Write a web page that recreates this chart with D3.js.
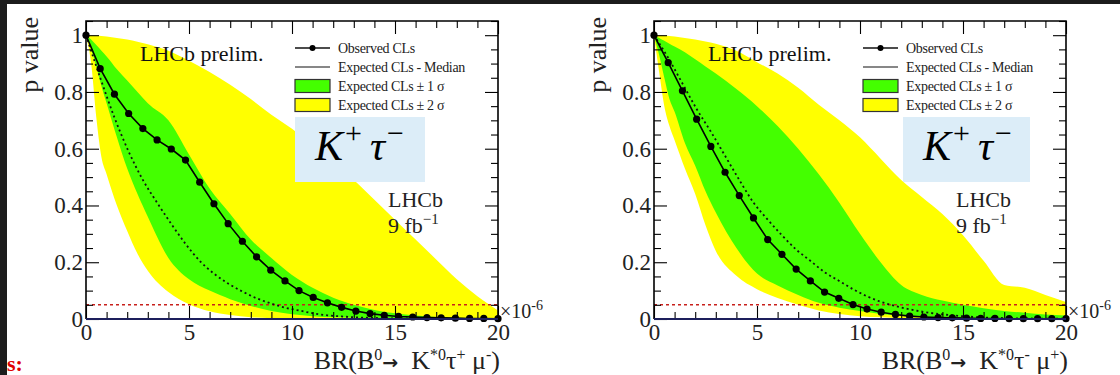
<!DOCTYPE html>
<html>
<head>
<meta charset="utf-8">
<script src="https://d3js.org/d3.v7.min.js"></script>
<style>
html, body { margin: 0; padding: 0; background: #1c1c1c; }
svg { display: block; }
</style>
</head>
<body>
<div id="chart"></div>
<script>
const W = 1120, H = 375;
const serif = "'Liberation Serif', 'DejaVu Serif', serif";
const green = "#44ff00", yellow = "#ffff00";

// scan points of the observed / median curves (BR in units of 1e-6)
const scanX = [0, 0.69, 1.38, 2.07, 2.76, 3.45, 4.14, 4.83, 5.52, 6.21, 6.90, 7.59, 8.28, 8.97, 9.66,
  10.34, 11.03, 11.72, 12.41, 13.10, 13.79, 14.48, 15.17, 15.86, 16.55, 17.24, 17.93, 18.62, 19.31, 20];
// grid on which the expected bands are read
const bandX = [0, 0.25, 0.5, 0.75, 1, 1.5, 2, 2.5, 3, 4, 5, 6, 7, 8, 9, 10, 11, 12, 13, 14, 15, 16, 17, 18, 19, 20];

// left: B0 -> K*0 tau+ mu-
const leftObs = [1.0, 0.882, 0.792, 0.724, 0.671, 0.631, 0.599, 0.560, 0.482, 0.406, 0.336, 0.274, 0.219, 0.172, 0.134,
  0.100, 0.076, 0.057, 0.041, 0.028, 0.019, 0.013, 0.009, 0.007, 0.005, 0.004, 0.003, 0.002, 0.002, 0.001];
const leftMed = [1.0, 0.85, 0.71, 0.59, 0.49, 0.41, 0.335, 0.265, 0.205, 0.16, 0.125, 0.097, 0.073, 0.055, 0.04,
  0.03, 0.02, 0.013, 0.009, 0.006, 0.004, 0.003, 0.002, 0.0015, 0.001, 0.001, 0.0005, 0.0005, 0.0003, 0.0002];
const leftLo2 = [1, 0.90, 0.71, 0.57, 0.51, 0.40, 0.31, 0.23, 0.17, 0.095, 0.052, 0.027, 0.014, 0.006, 0.003, 0.001, 0, 0, 0, 0, 0, 0, 0, 0, 0, 0];
const leftLo1 = [1, 0.95, 0.89, 0.82, 0.76, 0.64, 0.53, 0.44, 0.36, 0.215, 0.14, 0.10, 0.07, 0.046, 0.028, 0.017, 0.01, 0.006, 0.004, 0.002, 0.001, 0, 0, 0, 0, 0];
const leftHi1 = [1, 0.985, 0.965, 0.945, 0.925, 0.88, 0.84, 0.80, 0.76, 0.70, 0.58, 0.46, 0.37, 0.28, 0.215, 0.155, 0.11, 0.075, 0.05, 0.032, 0.02, 0.012, 0.007, 0.004, 0.002, 0.001];
const leftHi2 = [1, 1, 0.999, 0.997, 0.995, 0.99, 0.985, 0.977, 0.968, 0.945, 0.91, 0.87, 0.825, 0.775, 0.72, 0.67, 0.61, 0.55, 0.49, 0.42, 0.35, 0.28, 0.21, 0.14, 0.08, 0.03];

// right: B0 -> K*0 tau- mu+
const rightObs = [1.0, 0.903, 0.804, 0.704, 0.608, 0.517, 0.435, 0.356, 0.280, 0.228, 0.176, 0.134, 0.095, 0.073, 0.051,
  0.035, 0.024, 0.016, 0.010, 0.007, 0.005, 0.004, 0.003, 0.002, 0.002, 0.001, 0.001, 0.001, 0.001, 0.001];
const rightMed = [1.0, 0.92, 0.83, 0.74, 0.66, 0.575, 0.49, 0.41, 0.35, 0.295, 0.245, 0.205, 0.165, 0.135, 0.105,
  0.08, 0.06, 0.046, 0.034, 0.025, 0.018, 0.013, 0.009, 0.006, 0.004, 0.003, 0.002, 0.0015, 0.001, 0.0008];
const rightLo2 = [1, 0.87, 0.75, 0.68, 0.63, 0.53, 0.44, 0.33, 0.24, 0.152, 0.105, 0.074, 0.05, 0.03, 0.018, 0.01, 0.006, 0.003, 0.002, 0.001, 0, 0, 0, 0, 0, 0];
const rightLo1 = [1, 0.93, 0.85, 0.775, 0.73, 0.62, 0.54, 0.45, 0.375, 0.25, 0.16, 0.118, 0.085, 0.057, 0.04, 0.028, 0.018, 0.011, 0.007, 0.004, 0.002, 0.001, 0, 0, 0, 0];
const rightHi1 = [1, 0.99, 0.98, 0.97, 0.96, 0.94, 0.915, 0.89, 0.865, 0.81, 0.75, 0.68, 0.60, 0.51, 0.41, 0.30, 0.20, 0.12, 0.085, 0.065, 0.05, 0.038, 0.028, 0.022, 0.016, 0.012];
const rightHi2 = [1, 1, 0.999, 0.997, 0.995, 0.99, 0.985, 0.978, 0.97, 0.945, 0.905, 0.865, 0.815, 0.755, 0.70, 0.64, 0.565, 0.49, 0.43, 0.37, 0.295, 0.205, 0.12, 0.11, 0.085, 0.06];

const yTicks = [0, 0.2, 0.4, 0.6, 0.8, 1];
const xTicks = [0, 5, 10, 15, 20];
const legendLabels = ["Observed CLs", "Expected CLs - Median", "Expected CLs \u00b1 1 \u03c3", "Expected CLs \u00b1 2 \u03c3"];
const cl95 = 0.05;

const svg = d3.select("#chart").append("svg").attr("width", W).attr("height", H);
svg.append("rect").attr("x", 7).attr("y", 4).attr("width", W - 7).attr("height", H - 4).attr("fill", "#fff");

const pw = 412, ph = 298;
const x = d3.scaleLinear().domain([0, 20]).range([0, pw]);
const y = d3.scaleLinear().domain([0, 1.05]).range([ph, 0]);

function drawPanel(id, ox, obs, med, lo2, lo1, hi1, hi2, boxX, boxW, tauSign, muSign) {
  const g = svg.append("g").attr("transform", `translate(${ox},21)`);
  g.append("clipPath").attr("id", "clip" + id).append("rect").attr("width", pw).attr("height", ph);
  const plot = g.append("g").attr("clip-path", `url(#clip${id})`);

  const bands = bandX.map((bx, i) => ({ x: bx, lo2: lo2[i], lo1: lo1[i], hi1: hi1[i], hi2: hi2[i] }));
  const area = (a, b) => d3.area().x(d => x(d.x)).y0(d => y(d[a])).y1(d => y(d[b])).curve(d3.curveMonotoneX);
  plot.append("path").datum(bands).attr("d", area("lo2", "hi2")).attr("fill", yellow);
  plot.append("path").datum(bands).attr("d", area("lo1", "hi1")).attr("fill", green);

  plot.append("line").attr("x1", 0).attr("x2", pw).attr("y1", y(cl95)).attr("y2", y(cl95))
    .attr("stroke", "#c8201c").attr("stroke-width", 1.5).attr("stroke-dasharray", "3,3");

  const medPts = scanX.map((sx, i) => [sx, med[i]]);
  plot.append("path").datum(medPts)
    .attr("d", d3.line().x(d => x(d[0])).y(d => y(d[1])).curve(d3.curveMonotoneX))
    .attr("fill", "none").attr("stroke", "#111").attr("stroke-width", 1.8).attr("stroke-dasharray", "2,3");

  const obsPts = scanX.map((sx, i) => [sx, obs[i]]);
  plot.append("path").datum(obsPts)
    .attr("d", d3.line().x(d => x(d[0])).y(d => y(d[1])))
    .attr("fill", "none").attr("stroke", "#000").attr("stroke-width", 1.6);
  g.selectAll(".pt").data(obsPts).enter().append("circle")
    .attr("cx", d => x(d[0])).attr("cy", d => y(d[1])).attr("r", 3.6).attr("fill", "#000");

  // axes, ROOT style: ticks inside on all four sides
  const minorX = d3.range(0, 21).filter(v => v % 5 !== 0);
  const minorY = d3.range(0, 1.051, 0.05).filter(v => Math.abs(v * 5 - Math.round(v * 5)) > 1e-6);
  const ax = (axis, t) => g.append("g").attr("transform", t).call(axis)
    .call(s => s.select(".domain").remove())
    .call(s => s.selectAll("line").attr("stroke", "#000").attr("stroke-width", 1.1));

  ax(d3.axisBottom(x).tickValues(xTicks).tickSize(-13).tickPadding(5).tickFormat(d3.format("d")), `translate(0,${ph})`)
    .call(s => s.selectAll("text").attr("font-family", serif).attr("font-size", 23).attr("fill", "#222"));
  ax(d3.axisBottom(x).tickValues(minorX).tickSize(-7).tickFormat(""), `translate(0,${ph})`);
  ax(d3.axisTop(x).tickValues(xTicks).tickSize(-13).tickFormat(""), "translate(0,0)");
  ax(d3.axisTop(x).tickValues(minorX).tickSize(-7).tickFormat(""), "translate(0,0)");
  ax(d3.axisLeft(y).tickValues(yTicks).tickSize(-13).tickPadding(3).tickFormat(d => String(+d.toFixed(1))), "translate(0,0)")
    .call(s => s.selectAll("text").attr("font-family", serif).attr("font-size", 23).attr("fill", "#222"));
  ax(d3.axisLeft(y).tickValues(minorY).tickSize(-7).tickFormat(""), "translate(0,0)");
  ax(d3.axisRight(y).tickValues(yTicks).tickSize(-13).tickFormat(""), `translate(${pw},0)`);
  ax(d3.axisRight(y).tickValues(minorY).tickSize(-7).tickFormat(""), `translate(${pw},0)`);

  g.append("path").attr("d", `M0,${ph}V0H${pw}V${ph}`).attr("fill", "none").attr("stroke", "#000").attr("stroke-width", 1.6);
  g.append("line").attr("x1", 0).attr("x2", pw).attr("y1", ph).attr("y2", ph).attr("stroke", "#1d1f5c").attr("stroke-width", 2);

  // titles
  g.append("text").attr("transform", "translate(-48,-4) rotate(-90)").attr("text-anchor", "end")
    .attr("font-family", serif).attr("font-size", 26).attr("fill", "#222").text("p value");
  const xt = g.append("text").attr("x", pw + 2).attr("y", 348).attr("text-anchor", "end")
    .attr("font-family", serif).attr("font-size", 26).attr("fill", "#222");
  const seg = (t, sup) => xt.append("tspan").attr("font-size", sup ? 16 : 26).attr("dy", sup ? -9 : 0).text(t);
  const base = (t) => xt.append("tspan").attr("font-size", 26).attr("dy", 9).text(t);
  xt.append("tspan").text("BR(B"); seg("0", true);
  xt.append("tspan").attr("dy", 9).attr("font-family", "'DejaVu Sans', sans-serif").attr("font-weight", "bold")
    .attr("font-size", 19).text("\u2192");
  xt.append("tspan").text("\u2002K"); seg("*0", true); base("\u03c4"); seg(tauSign, true);
  base(" \u03bc"); seg(muSign, true); base(")");

  const ex = g.append("text").attr("x", pw + 2).attr("y", 297).attr("font-family", serif).attr("font-size", 20).attr("fill", "#222");
  ex.append("tspan").text("\u00d710");
  ex.append("tspan").attr("font-size", 14).attr("dy", -8).text("-6");

  g.append("text").attr("x", 54).attr("y", 40).attr("font-family", serif).attr("font-size", 22).attr("fill", "#111").text("LHCb prelim.");
  g.append("text").attr("x", 302).attr("y", 186).attr("font-family", serif).attr("font-size", 22).attr("fill", "#222").text("LHCb");
  const lumi = g.append("text").attr("x", 302).attr("y", 212).attr("font-family", serif).attr("font-size", 22).attr("fill", "#222");
  lumi.append("tspan").text("9 fb");
  lumi.append("tspan").attr("font-size", 15).attr("dy", -9).text("\u22121");

  // legend
  const lg = g.append("g").attr("transform", "translate(209,27)");
  legendLabels.forEach((lab, i) => {
    const row = lg.append("g").attr("transform", `translate(0,${i * 19})`);
    if (i < 2) {
      row.append("line").attr("x1", 0).attr("x2", 35).attr("stroke", "#111").attr("stroke-width", i === 0 ? 1.6 : 1.2);
      if (i === 0) row.append("circle").attr("cx", 17.5).attr("r", 3).attr("fill", "#000");
    } else {
      row.append("rect").attr("x", 0).attr("y", -6.5).attr("width", 35).attr("height", 13)
        .attr("fill", i === 2 ? green : yellow).attr("stroke", "#333").attr("stroke-width", 1.2);
    }
    row.append("text").attr("x", 43).attr("dy", "0.35em").attr("font-family", serif).attr("font-size", 14)
      .attr("letter-spacing", -0.3).attr("fill", "#222").text(lab);
  });

  // highlighted channel label
  svg.append("rect").attr("x", boxX).attr("y", 117).attr("width", boxW).attr("height", 65).attr("fill", "#dcedf8");
  const kt = svg.append("text").attr("x", boxX + 20).attr("y", 160).attr("font-family", serif)
    .attr("font-style", "italic").attr("font-size", 42).attr("fill", "#000");
  kt.append("tspan").text("K");
  kt.append("tspan").attr("font-size", 30).attr("font-style", "normal").attr("dy", -17).attr("dx", 2).text("+");
  kt.append("tspan").attr("dy", 17).attr("dx", 8).text("\u03c4");
  kt.append("tspan").attr("font-size", 30).attr("font-style", "normal").attr("dy", -17).attr("dx", 2).text("\u2212");
}

drawPanel("L", 86, leftObs, leftMed, leftLo2, leftLo1, leftHi1, leftHi2, 295, 130, "+", "-");
drawPanel("R", 654, rightObs, rightMed, rightLo2, rightLo1, rightHi1, rightHi2, 903, 127, "-", "+");

svg.append("text").attr("x", 7).attr("y", 371).attr("font-family", serif).attr("font-weight", "bold")
  .attr("font-size", 22).attr("fill", "#e00000").text("s:");
</script>
</body>
</html>
